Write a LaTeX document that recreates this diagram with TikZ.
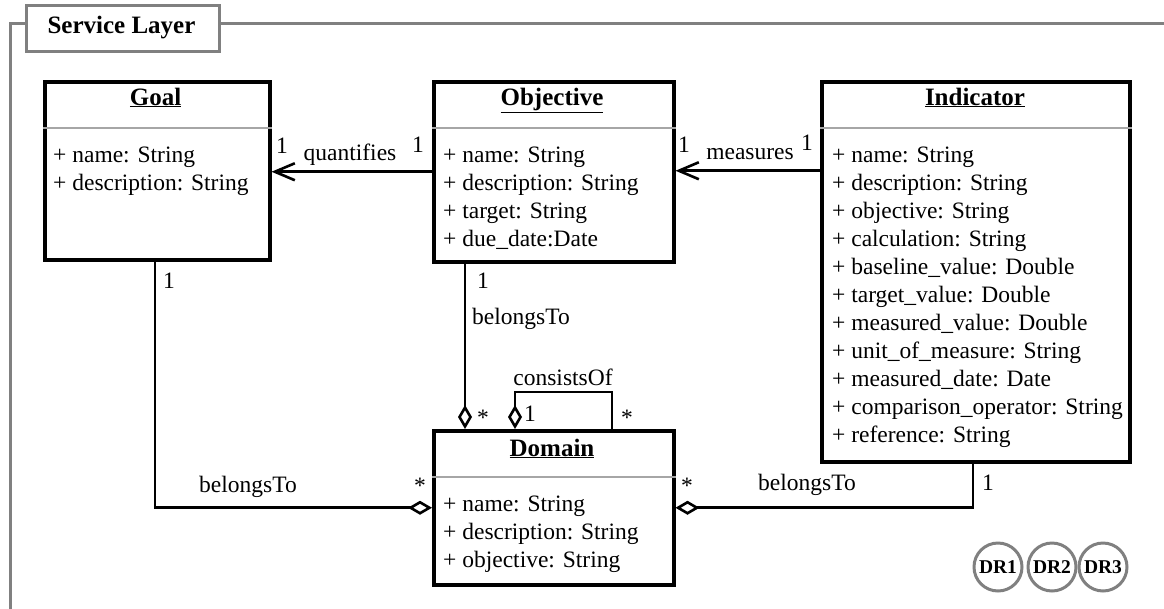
\documentclass[tikz,border=0pt]{standalone}
\usepackage{fontspec}
\setmainfont{Liberation Serif}
\usetikzlibrary{arrows.meta}
\newcommand{\umlfont}{\fontsize{23.5}{28}\selectfont}
\newcommand{\umltitlefont}{\fontsize{25}{30}\selectfont\bfseries}
\begin{document}
\begin{tikzpicture}[x=1pt,y=-1pt,
  classbox/.style={draw=black, line width=3.5pt, fill=white, inner sep=0pt, anchor=north west},
  sepline/.style={draw=black!35, line width=2pt},
  ctitle/.style={font=\umltitlefont, anchor=base, inner sep=0pt},
  attr/.style={font=\umlfont, anchor=base west, inner sep=0pt},
  lbl/.style={font=\umlfont, anchor=base, inner sep=0pt},
  lblw/.style={font=\umlfont, anchor=base west, inner sep=0pt},
  assoc/.style={draw, line width=2.6pt, -{Straight Barb[length=20pt,width=17pt,line width=2.6pt]}},
  agg/.style={draw, line width=2.6pt, -{Diamond[open,length=24pt,width=14pt,line width=2.6pt]}},
  frameline/.style={draw=black!50, line width=3pt},
  drbadge/.style={circle, draw=black!50, line width=3pt, minimum size=48pt, inner sep=0pt, font=\fontsize{19.5}{22}\selectfont\bfseries}
]
\useasboundingbox (0,0) rectangle (1164,608);

% layer frame and its tab
\node[draw=black!50, line width=3pt, fill=white, minimum width=193pt, minimum height=46pt, inner sep=0pt, anchor=north west] (layer) at (25,4) {};
\node[ctitle] (layer-title) at (121.5,33) {Service Layer};
\coordinate (fr-tl) at (10,23);
\coordinate (fr-bl) at (10,612);
\coordinate (fr-tr) at (1168,23);
\draw[frameline] (layer.west |- fr-tl) -- (fr-tl) -- (fr-bl);
\draw[frameline] (layer.east |- fr-tl) -- (fr-tr);

% classes
\node[classbox, minimum width=225pt, minimum height=178pt] (goal) at (43,80) {};
\node[classbox, minimum width=240pt, minimum height=180pt] (objective) at (432,80) {};
\node[classbox, minimum width=308pt, minimum height=380pt] (indicator) at (820,80) {};
\node[classbox, minimum width=240pt, minimum height=154pt] (domain) at (432,429) {};

\draw[sepline] (goal.west |- 0,128) -- (goal.east |- 0,128);
\draw[sepline] (objective.west |- 0,128) -- (objective.east |- 0,128);
\draw[sepline] (indicator.west |- 0,128) -- (indicator.east |- 0,128);
\draw[sepline] (domain.west |- 0,477) -- (domain.east |- 0,477);

\node[ctitle] (goal-t) at (155.5,105) {\underline{Goal}};
\node[ctitle] (objective-t) at (552,105) {\underline{Objective}};
\node[ctitle] (indicator-t) at (975,105) {\underline{Indicator}};
\node[ctitle] (domain-t) at (552,456) {\underline{Domain}};

\foreach \t [count=\i from 0] in {+ name: String, + description: String}
  \node[attr] (goal-a\i) at (53,{162+28*\i}) {\t};
\foreach \t [count=\i from 0] in {+ name: String, + description: String, + target: String, + due\_date:Date}
  \node[attr] (objective-a\i) at (443,{162+28*\i}) {\t};
\foreach \t [count=\i from 0] in {+ name: String, + description: String, + objective: String,
    + calculation: String, + baseline\_value: Double, + target\_value: Double,
    + measured\_value: Double, + unit\_of\_measure: String, + measured\_date: Date,
    + comparison\_operator: String, + reference: String}
  \node[attr] (indicator-a\i) at (832,{162+28*\i}) {\t};
\foreach \t [count=\i from 0] in {+ name: String, + description: String, + objective: String}
  \node[attr] (domain-a\i) at (443,{511+28*\i}) {\t};

% associations
\draw[assoc] (objective.west) -- (objective.west -| goal.east);
\node[lbl] (q-1a) at (282,153) {1};
\node[lbl] (q-name) at (350,160) {quantifies};
\node[lbl] (q-1b) at (418,152) {1};

\path (objective.east) ++(0,-1) coordinate (m-end);
\draw[assoc] (m-end -| indicator.west) -- (m-end);
\node[lbl] (m-1a) at (684,152) {1};
\node[lbl] (m-name) at (750,159) {measures};
\node[lbl] (m-1b) at (807,150) {1};

% aggregations into Domain
\coordinate (od-x) at (465,0);
\draw[agg] (objective.south -| od-x) -- (domain.north -| od-x);
\node[lbl] (od-1) at (483,288) {1};
\node[lblw] (od-name) at (472,324) {belongsTo};
\node[lbl] (od-star) at (483,425) {*};

\coordinate (co-r) at (612,392);
\coordinate (co-l) at (515,392);
\draw[agg] (domain.north -| co-r) -- (co-r) -- (co-l) -- (domain.north -| co-l);
\node[lbl] (co-name) at (563,385) {consistsOf};
\node[lbl] (co-1) at (530,421) {1};
\node[lbl] (co-star) at (627,425) {*};

\coordinate (gd-x) at (155,0);
\draw[agg] (goal.south -| gd-x) |- (domain.west);
\node[lbl] (gd-1) at (169,288) {1};
\node[lbl] (gd-name) at (248,492) {belongsTo};
\node[lbl] (gd-star) at (420,493) {*};

\coordinate (id-x) at (973,0);
\draw[agg] (indicator.south -| id-x) |- (domain.east);
\node[lbl] (id-1) at (988,490) {1};
\node[lbl] (id-name) at (807,490) {belongsTo};
\node[lbl] (id-star) at (687,493) {*};

% design requirement badges
\node[drbadge] (dr1) at (998,567) {DR1};
\node[drbadge] (dr2) at (1052,567) {DR2};
\node[drbadge] (dr3) at (1103,567) {DR3};
\end{tikzpicture}
\end{document}
